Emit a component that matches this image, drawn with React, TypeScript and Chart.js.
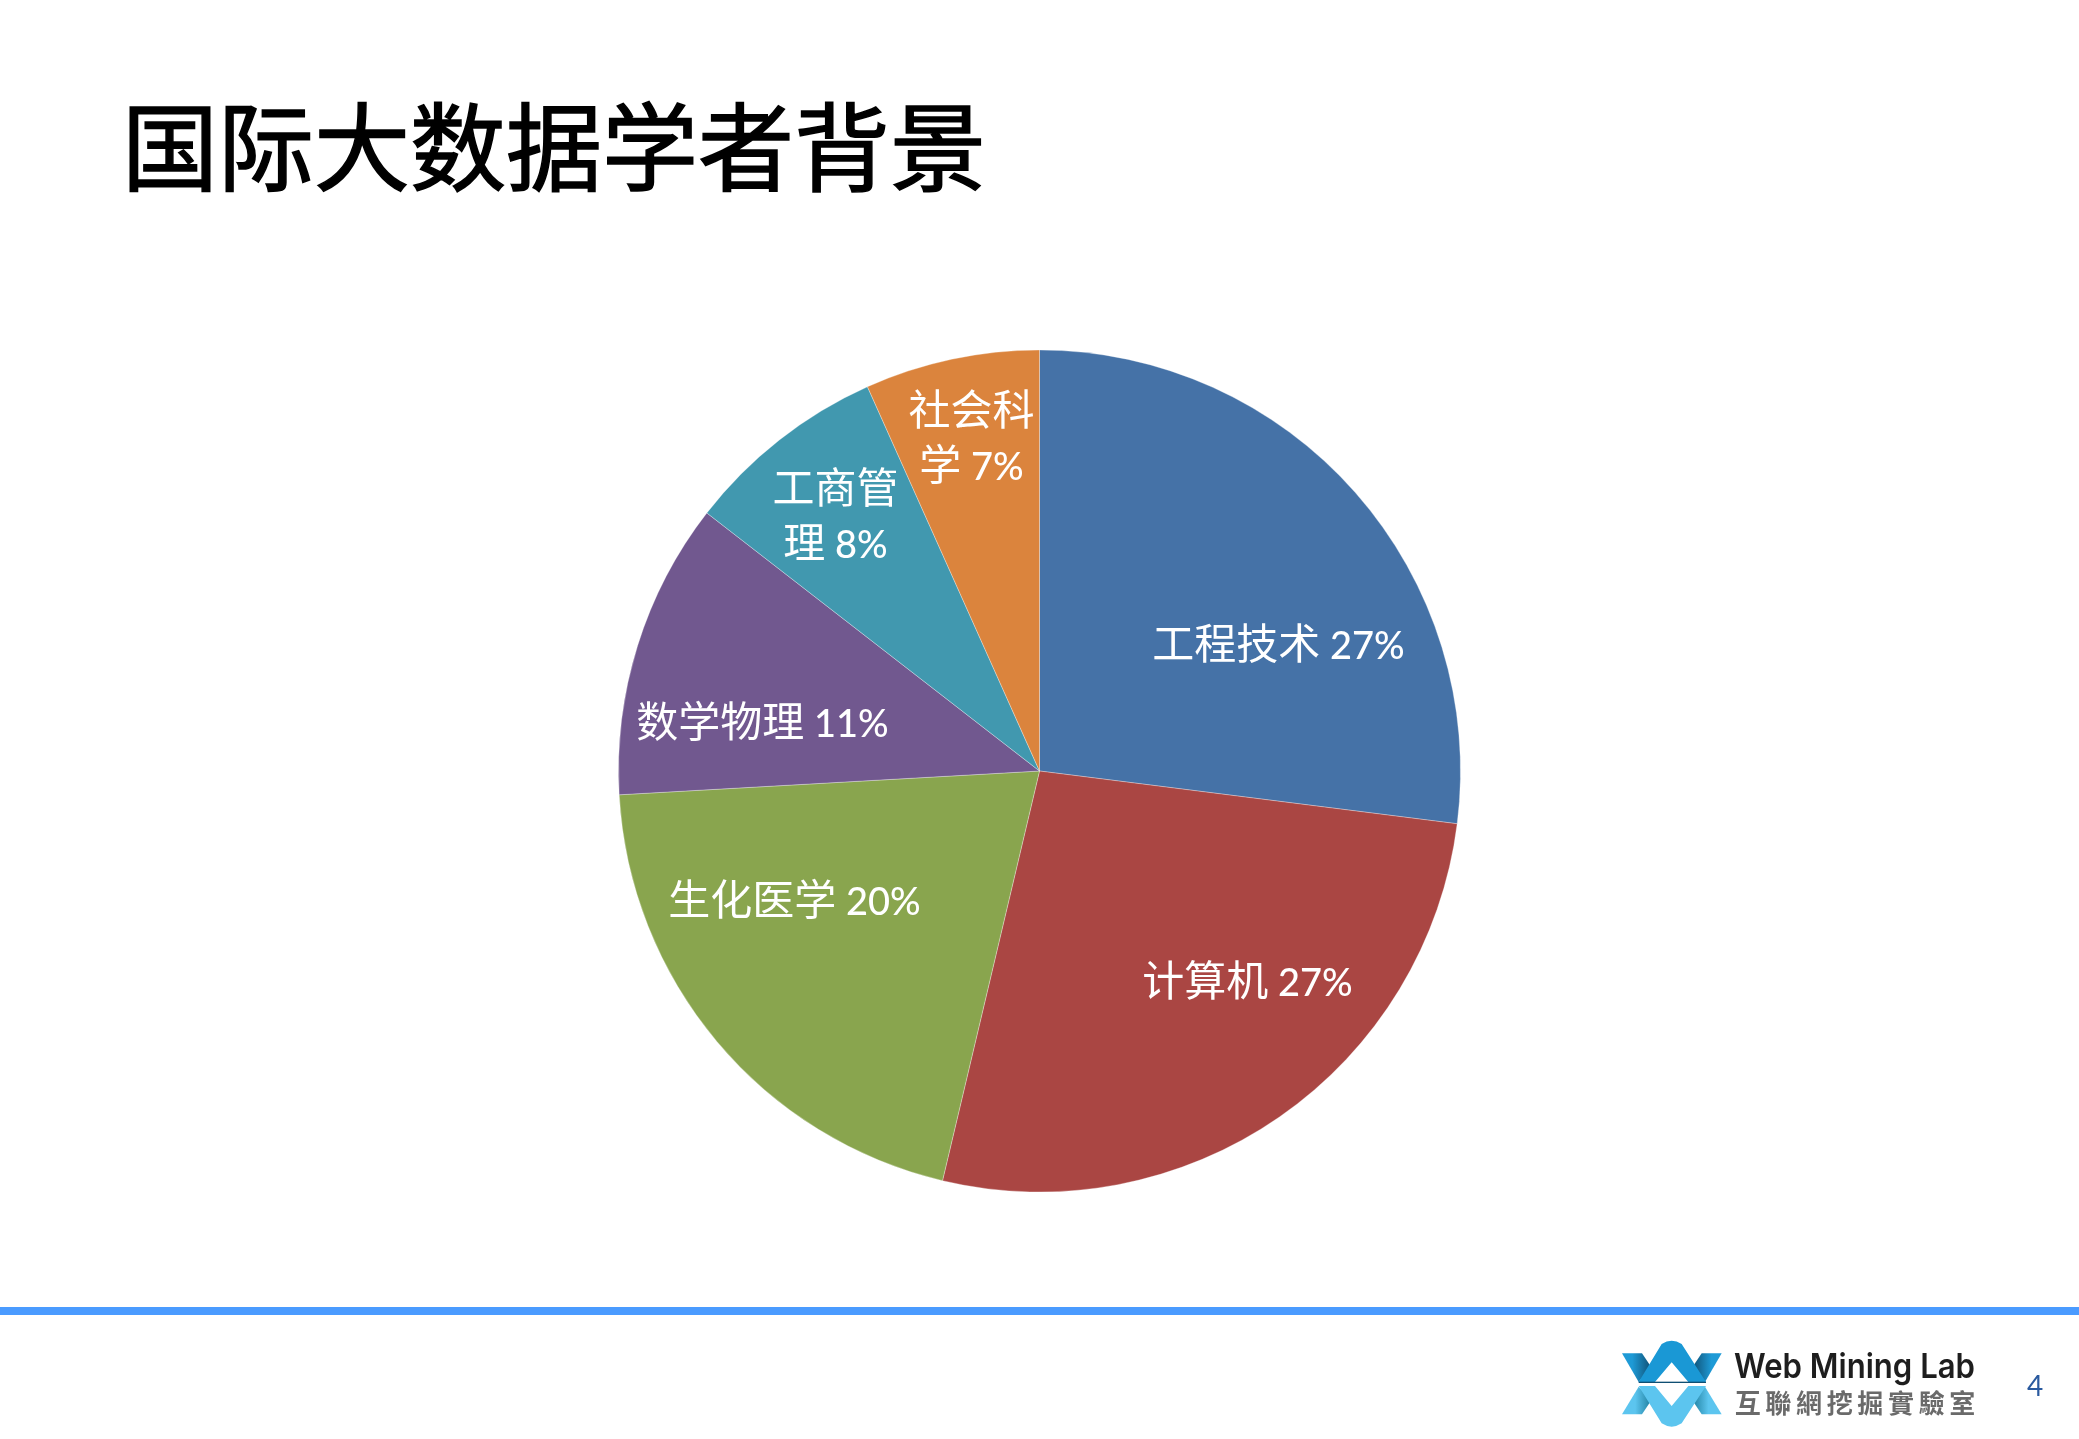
import { useEffect, useRef } from 'react';
import { Chart, registerables } from 'chart.js';

Chart.register(...registerables);

const TITLE = '国际大数据学者背景';
const PAGE_NO = '4';

const categories = ['工程技术', '计算机', '生化医学', '数学物理', '工商管理', '社会科学'];
const shares = [27.0, 26.7, 20.4, 11.4, 7.8, 6.7];
const colors = ['#4572A7', '#AA4643', '#89A54E', '#71588F', '#4198AF', '#DB843D'];

// label text per slice, wrapped the way the slide wraps it
const labelLines = [
  ['工程技术 27%'],
  ['计算机 27%'],
  ['生化医学 20%'],
  ['数学物理 11%'],
  ['工商管', '理 8%'],
  ['社会科', '学 7%'],
];
// label centre relative to the pie centre, px
const labelOffsets = [
  [239, -126],
  [208, 211],
  [-245, 130],
  [-277, -48],
  [-204, -255],
  [-68, -333],
];

const CJK_FONT = '42px "Noto Sans CJK SC"';
const LATIN_FONT = '500 38px Lato';
const LINE_GAP = 55;

const sliceLabels = {
  id: 'sliceLabels',
  afterDatasetsDraw(chart: Chart) {
    const { ctx } = chart;
    const arcs = chart.getDatasetMeta(0).data as any[];
    ctx.save();
    ctx.fillStyle = '#fff';
    ctx.textBaseline = 'alphabetic';
    ctx.textAlign = 'left';
    arcs.forEach((arc, i) => {
      const lines = labelLines[i];
      const cy = arc.y + labelOffsets[i][1];
      lines.forEach((line, k) => {
        const runs = line.match(/[\x00-\x7f]+|[^\x00-\x7f]+/g) || [];
        const fontOf = (r: string) => (r.charCodeAt(0) < 128 ? LATIN_FONT : CJK_FONT);
        let w = 0;
        runs.forEach((r) => {
          ctx.font = fontOf(r);
          w += ctx.measureText(r).width;
        });
        let x = arc.x + labelOffsets[i][0] - w / 2;
        const y = cy + (k - (lines.length - 1) / 2) * LINE_GAP + 14;
        runs.forEach((r) => {
          ctx.font = fontOf(r);
          ctx.fillText(r, x, y);
          x += ctx.measureText(r).width;
        });
      });
    });
    ctx.restore();
  },
};

function Logo() {
  return (
    <svg
      viewBox="0 0 1557 477"
      width={519}
      height={159}
      style={{ position: 'absolute', left: 1560, top: 1280 }}
    >
      <defs>
        <linearGradient id="wl" x1="0" y1="0" x2="1" y2="0">
          <stop offset="0.35" stopColor="#1E9AD6" />
          <stop offset="1" stopColor="#0F4F73" />
        </linearGradient>
        <linearGradient id="wr" x1="1" y1="0" x2="0" y2="0">
          <stop offset="0.35" stopColor="#1E9AD6" />
          <stop offset="1" stopColor="#0F4F73" />
        </linearGradient>
        <linearGradient id="bl" x1="0" y1="0" x2="1" y2="0">
          <stop offset="0.45" stopColor="#5CC5EF" />
          <stop offset="1" stopColor="#1F7F9F" />
        </linearGradient>
        <linearGradient id="br" x1="1" y1="0" x2="0" y2="0">
          <stop offset="0.45" stopColor="#5CC5EF" />
          <stop offset="1" stopColor="#1F7F9F" />
        </linearGradient>
      </defs>
      <path d="M186 220 H246 L274 262 L236 306 Z" fill="url(#wl)" />
      <path d="M485 220 H425 L397 262 L435 306 Z" fill="url(#wr)" />
      <path d="M236 306 L305 192 Q335 172 365 192 L438 306 H385 L335 247 L285 306 Z" fill="#1A98D5" />
      <rect x="236" y="305" width="202" height="4" fill="#0F4F73" />
      <path d="M186 403 H246 L274 361 L236 320 Z" fill="url(#bl)" />
      <path d="M485 403 H425 L397 361 L435 320 Z" fill="url(#br)" />
      <path d="M236 318 H285 L335 378 L385 318 H438 L365 430 Q335 450 305 430 Z" fill="#5CC5EF" />
      <text x="522" y="293" fontFamily="Inter" fontSize="102" fontWeight="600" fill="#1E1E1E" textLength="723" lengthAdjust="spacingAndGlyphs">
        Web Mining Lab
      </text>
      <text x="524" y="398" fontFamily="'Noto Sans CJK TC'" fontSize="78" fontWeight="700" fill="#6A6A6A" textLength="722">
        互聯網挖掘實驗室
      </text>
    </svg>
  );
}

export default function App() {
  const canvasRef = useRef<HTMLCanvasElement>(null);

  useEffect(() => {
    if (!canvasRef.current) return;
    const chart = new Chart(canvasRef.current, {
      type: 'pie',
      data: {
        labels: categories,
        datasets: [{ data: shares, backgroundColor: colors, borderColor: 'rgba(255,255,255,0.3)', borderWidth: 1 }],
      },
      options: {
        responsive: false,
        animation: false,
        layout: { padding: { top: 349, bottom: 246, left: 618, right: 618 } },
        plugins: { legend: { display: false }, tooltip: { enabled: false } },
      },
      plugins: [sliceLabels],
    });
    return () => chart.destroy();
  }, []);

  return (
    <div style={{ position: 'fixed', left: 0, top: 0, width: 2079, height: 1439, background: '#fff', overflow: 'hidden' }}>
      <canvas ref={canvasRef} width={2079} height={1439} style={{ position: 'absolute', left: 0, top: 0 }} />
      <div
        style={{
          position: 'absolute',
          left: 122,
          top: 72,
          fontFamily: '"Noto Sans CJK SC"',
          fontSize: 96,
          fontWeight: 400,
          WebkitTextStroke: '1.5px #000',
          lineHeight: '140px',
          color: '#000',
          whiteSpace: 'nowrap',
        }}
      >
        {TITLE}
      </div>
      <div style={{ position: 'absolute', left: 0, top: 1307, width: 2079, height: 8, background: '#4A9BFF' }} />
      <Logo />
      <div
        style={{
          position: 'absolute',
          left: 2015,
          top: 1365,
          width: 40,
          textAlign: 'center',
          fontFamily: 'Lato',
          fontSize: 28,
          lineHeight: '40px',
          color: '#2A5A9F',
        }}
      >
        {PAGE_NO}
      </div>
    </div>
  );
}
